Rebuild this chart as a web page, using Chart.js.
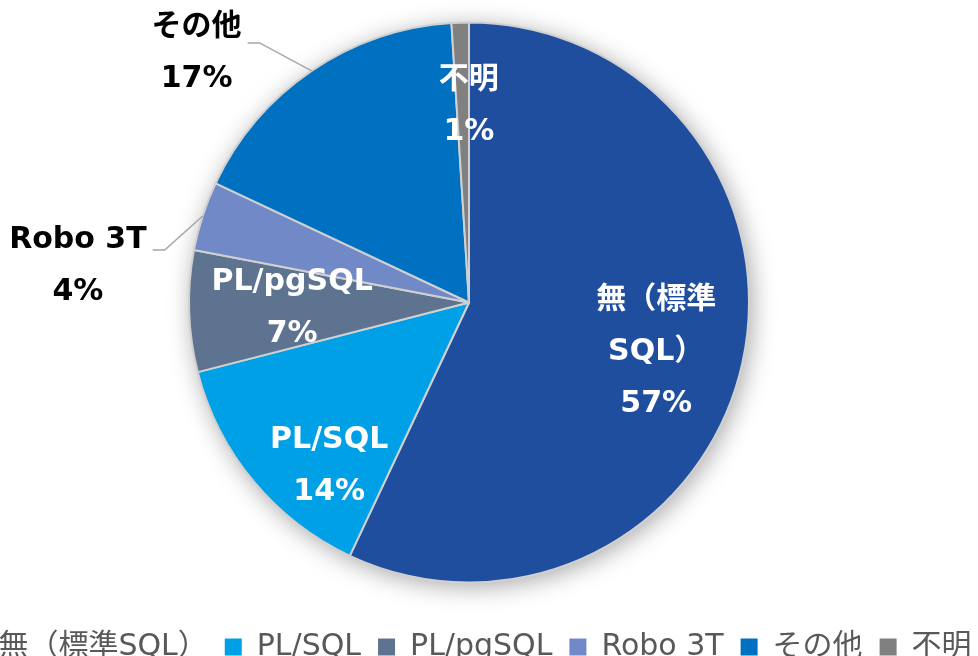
<!DOCTYPE html>
<html lang="ja">
<head>
<meta charset="utf-8">
<script src="https://cdn.jsdelivr.net/npm/chart.js@4"></script>
<style>
  html, body { margin: 0; padding: 0; background: #fff; overflow: hidden; width: 978px; height: 656px; }
  #wrap { position: absolute; left: -71px; top: -10px; width: 1080px; height: 702px; }
</style>
</head>
<body>
<div id="wrap"><canvas id="toolChart" width="1080" height="702"></canvas></div>
<script>
var tools = ['無（標準SQL）', 'PL/SQL', 'PL/pgSQL', 'Robo 3T', 'その他', '不明'];
var shares = [57, 14, 7, 4, 17, 1];
var sliceColors = ['#1f4e9f', '#00a0e6', '#5e7390', '#7289c8', '#0070c0', '#808080'];
// text printed on / next to each slice (wrapped where it breaks), percent goes below
var labelLines = [['無（標準', 'SQL）'], ['PL/SQL'], ['PL/pgSQL'], ['Robo 3T'], ['その他'], ['不明']];

// where each data label sits: inside ones along the slice's middle angle,
// outside ones hang off a leader line (elbow offset from the rim, then a short run left)
var labelPlace = [
    { inside: true, r: 0.685, dx: 0, dy: 8 },
    { inside: true, r: 0.75, dx: 22, dy: 30 },
    { inside: true, r: 0.632, dx: 0, dy: 0 },
    { inside: false, elbow: [-38, 34], run: -12, dy: -10 },
    { inside: false, elbow: [-52, -28], run: -12, dy: -16 },
    { inside: true, r: 0.70, dx: 6, dy: 0 }
];
var lineGap = 52;
var fontStack = '"DejaVu Sans", "Noto Sans CJK JP", sans-serif';

var sliceLabels = {
    id: 'sliceLabels',
    beforeDatasetsDraw: function (chart) {
        // soft shadow under the whole pie
        var arc = chart.getDatasetMeta(0).data[0];
        if (!arc) return;
        var p = arc.getProps(['x', 'y', 'outerRadius'], true);
        var ctx = chart.ctx;
        ctx.save();
        ctx.shadowColor = 'rgba(0, 0, 0, 0.35)';
        ctx.shadowBlur = 24;
        ctx.shadowOffsetX = 3;
        ctx.shadowOffsetY = 4;
        ctx.fillStyle = '#fff';
        ctx.beginPath();
        ctx.arc(p.x, p.y, p.outerRadius, 0, Math.PI * 2);
        ctx.fill();
        ctx.restore();
    },
    afterDatasetsDraw: function (chart) {
        var ctx = chart.ctx;
        var meta = chart.getDatasetMeta(0);
        ctx.save();
        ctx.font = 'bold 30px ' + fontStack;
        ctx.textAlign = 'center';
        ctx.textBaseline = 'middle';
        meta.data.forEach(function (arc, i) {
            var p = arc.getProps(['x', 'y', 'startAngle', 'endAngle', 'outerRadius'], true);
            var mid = (p.startAngle + p.endAngle) / 2;
            var lines = labelLines[i].concat([shares[i] + '%']);
            var place = labelPlace[i];
            var cx, top;
            if (place.inside) {
                cx = p.x + Math.cos(mid) * p.outerRadius * place.r + place.dx;
                var cy = p.y + Math.sin(mid) * p.outerRadius * place.r + place.dy;
                top = cy - (lines.length - 1) * lineGap / 2;
                ctx.fillStyle = '#fff';
            } else {
                var ex = p.x + Math.cos(mid) * p.outerRadius;
                var ey = p.y + Math.sin(mid) * p.outerRadius;
                var bx = ex + place.elbow[0];
                var by = ey + place.elbow[1];
                var endX = bx + place.run;
                ctx.strokeStyle = '#a6a6a6';
                ctx.lineWidth = 1.5;
                ctx.beginPath();
                ctx.moveTo(ex, ey);
                ctx.lineTo(bx, by);
                ctx.lineTo(endX, by);
                ctx.stroke();
                var w = Math.max.apply(null, lines.map(function (l) { return ctx.measureText(l).width; }));
                cx = endX - 6 - w / 2;
                top = by + place.dy;
                ctx.fillStyle = '#000';
            }
            lines.forEach(function (l, k) {
                ctx.fillText(l, cx, top + k * lineGap);
            });
        });
        ctx.restore();
    }
};

new Chart(document.getElementById('toolChart'), {
    type: 'pie',
    data: {
        labels: tools,
        datasets: [{
            data: shares,
            backgroundColor: sliceColors,
            borderColor: '#d0d0d0',
            borderWidth: 2,
            radius: 280
        }]
    },
    options: {
        responsive: false,
        animation: false,
        events: [],
        layout: { padding: { bottom: 20 } },
        plugins: {
            tooltip: { enabled: false },
            legend: {
                position: 'bottom',
                labels: {
                    boxWidth: 17,
                    boxHeight: 17,
                    padding: 17,
                    color: '#595959',
                    font: { family: fontStack, size: 30 },
                    generateLabels: function (chart) {
                        var items = Chart.overrides.pie.plugins.legend.labels.generateLabels(chart);
                        items.forEach(function (it) {
                            it.strokeStyle = it.fillStyle;
                            it.lineWidth = 0;
                        });
                        return items;
                    }
                }
            }
        }
    },
    plugins: [sliceLabels]
});
</script>
</body>
</html>
